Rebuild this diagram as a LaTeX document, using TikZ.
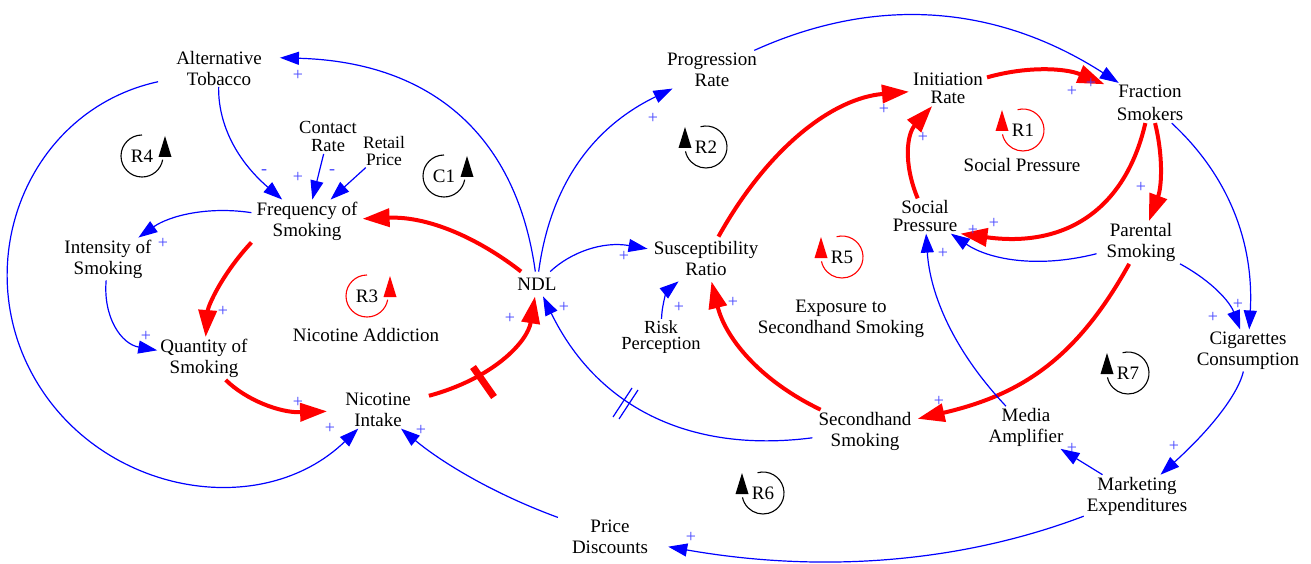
\documentclass[tikz,border=0pt]{standalone}
\usepackage{fontspec}
\setmainfont{Liberation Serif}
\usetikzlibrary{arrows.meta}
\definecolor{pblue}{RGB}{70,70,255}
% clockwise loop marker, arrow on the left
\newcommand\LoopCW[4]{%
  \draw[#3, line width=1.1pt] (#1,#2) ++(-105:21) arc[start angle=-105, end angle=168, radius=21];
  \fill[#3] ({#1-21},{#2-20}) -- ({#1-27.5},{#2+1}) -- ({#1-14.5},{#2+1}) -- cycle;
  \node[lbl] (loop#4) at (#1,#2) {#4};}
% counter-clockwise loop marker, arrow on the right
\newcommand\LoopCCW[4]{%
  \draw[#3, line width=1.1pt] (#1,#2) ++(-90:21) arc[start angle=270, end angle=10, radius=21];
  \fill[#3] ({#1+23},{#2-20}) -- ({#1+16.5},{#2+1}) -- ({#1+29.5},{#2+1}) -- cycle;
  \node[lbl] (loop#4) at (#1,#2) {#4};}
\begin{document}
\begin{tikzpicture}[x=1pt,y=-1pt,
  var/.style={font=\fontsize{19}{21}\selectfont, align=center, inner xsep=3pt, inner ysep=2pt},
  sml/.style={font=\fontsize{18.5}{16}\selectfont, align=center, inner sep=2pt},
  lbl/.style={font=\fontsize{19}{21}\selectfont, align=center, inner sep=1pt},
  pol/.style={text=pblue, font=\fontsize{18}{18}\selectfont, inner sep=0pt},
  blu/.style={draw=blue, line width=1.2pt, -{Triangle[length=19pt,width=13pt]}},
  rd/.style={draw=red, line width=4pt, -{Triangle[length=27pt,width=18pt]}},
]
\fill[white] (0,0) rectangle (1311,564);
\path[use as bounding box] (0,0) rectangle (1311,564);

% ---------- variables ----------
\node[var, inner xsep=18pt, inner ysep=1pt] (alt) at (219,68.5) {Alternative\\Tobacco};
\node[sml, font=\fontsize{18.5}{18}\selectfont] (contact) at (328,136.5) {Contact\\Rate};
\node[sml, font=\fontsize{17.5}{16.5}\selectfont] (retail) at (384,151) {Retail\\Price};
\node[var, inner xsep=5pt] (freq) at (307,221) {Frequency of\\Smoking};
\node[var] (int) at (108,259) {Intensity of\\Smoking};
\node[var] (qty) at (204,358.5) {Quantity of\\Smoking};
\node[var, inner xsep=18pt] (nic) at (378,409.5) {Nicotine\\Intake};
\node[var, inner xsep=2pt, inner ysep=6pt] (ndl) at (537,284) {NDL};
\node[var, inner xsep=20pt] (pd) at (610,536.5) {Price\\Discounts};
\node[var] (prog) at (712,69.5) {Progression\\Rate};
\node[var, inner xsep=6pt, inner ysep=5pt] (sus) at (706,259) {Susceptibility\\Ratio};
\node[sml] (rp) at (661,337.5) {Risk\\Perception};
\node[var, font=\fontsize{19}{18}\selectfont, inner xsep=4pt] (ir) at (948,88.5) {Initiation\\Rate};
\node[var, font=\fontsize{19}{23}\selectfont, inner xsep=12pt] (fs) at (1150,103) {Fraction\\Smokers};
\node[var, font=\fontsize{19}{17.5}\selectfont] (sp) at (925,216) {Social\\Pressure};
\node[var, inner xsep=10pt] (ps) at (1141,242.5) {Parental\\Smoking};
\node[var] (cc) at (1248,350.5) {Cigarettes\\Consumption};
\node[var, inner xsep=6pt] (shs) at (865,431) {Secondhand\\Smoking};
\node[var] (ma) at (1026,427.5) {Media\\Amplifier};
\node[var] (me) at (1137,496) {Marketing\\Expenditures};

% ---------- loop names ----------
\node[lbl] (expo) at (841,319) {Exposure to\\Secondhand Smoking};
\node[lbl] (nicadd) at (366,335) {Nicotine Addiction};
\node[lbl] (socp) at (1022,165) {Social Pressure};

% ---------- links ----------
\draw[blu] (ndl) .. controls (517,138) and (434,62) .. (alt.10);
\draw[blu] (alt) .. controls (28,110) and (-32.5,262) .. (35,379) .. controls (102,495) and (262,521.5) .. (nic);
\draw[blu] (alt) .. controls (218,121) and (234,158) .. (freq);
\draw[blu] (contact) -- (freq);
\draw[blu] (retail) -- (freq);
\draw[blu] (freq) .. controls (207,206) and (169,216) .. (int);
\draw[rd] (freq.south west) .. controls (222,274) and (208,306) .. (qty);
\draw[blu] (int) .. controls (103,317) and (121,344) .. (qty);
\draw[rd] (qty) .. controls (246,400) and (280,413) .. (nic);
\draw[rd] (nic) .. controls (492.5,378.6) and (527.5,342.3) .. (ndl);
\draw[rd] (ndl) .. controls (482,241) and (431,216) .. (freq);
\draw[blu] (ndl) .. controls (550,187) and (591,128) .. (prog);
\draw[blu] (ndl) .. controls (571,252) and (603,241) .. (sus);
\draw[blu] (shs) .. controls (687,454) and (596,405) .. (ndl);
\draw[blu] (pd) .. controls (494,494) and (442.5,463) .. (nic);
\draw[blu] (me) .. controls (963,562) and (824,574) .. (pd);
\draw[blu] (prog) .. controls (879,-6) and (999,6) .. (fs);
\draw[rd] (ir) .. controls (1027,66) and (1065,68) .. (fs);
\draw[rd] (sus) .. controls (769,146) and (834,98) .. (ir);
\draw[rd] (sp) .. controls (903,163) and (907,134) .. (ir);
\draw[rd] (fs) .. controls (1125,211) and (1064,248) .. (sp.south east);
\draw[rd] (fs) .. controls (1163,155) and (1162,186) .. (ps);
\draw[blu] (ps) .. controls (1036,269) and (988,259) .. (sp);
\draw[blu] (fs) .. controls (1231,178) and (1254,246) .. (cc);
\draw[blu] (ps) .. controls (1212.5,281.6) and (1230,302) .. (cc);
\draw[rd] (ps) .. controls (1076,360) and (1020,395) .. (shs);
\draw[rd] (shs) .. controls (758,379.6) and (725,336.6) .. (sus);
\draw[blu] (rp) .. controls (662,302) and (668,290) .. (sus);
\draw[blu] (ma) .. controls (954,351) and (930,295) .. (sp);
\draw[blu] (cc) .. controls (1239,391) and (1215.7,424.7) .. (me);
\draw[blu] (me) -- (ma);

% ---------- delay marks ----------
\draw[red, line width=7pt] (473,367) -- (494,397);
\draw[blue, line width=1.2pt] (613,417) -- (632,388);
\draw[blue, line width=1.2pt] (619,419) -- (638,390);

% ---------- polarities ----------
\node[pol] (p1) at (298,75) {+};
\node[pol] (p2) at (264,172) {-};
\node[pol] (p3) at (298,177) {+};
\node[pol] (p4) at (332,172) {-};
\node[pol] (p5) at (163,243) {+};
\node[pol] (p6) at (223,311) {+};
\node[pol] (p7) at (146,336) {+};
\node[pol] (p8) at (298,402) {+};
\node[pol] (p9) at (330,428) {+};
\node[pol] (p10) at (421,430) {+};
\node[pol] (p11) at (510,318) {+};
\node[pol] (p12) at (564,307) {+};
\node[pol] (p13) at (653,118) {+};
\node[pol] (p14) at (624,256) {+};
\node[pol] (p15) at (679,307) {+};
\node[pol] (p16) at (733,302) {+};
\node[pol] (p17) at (884,109) {+};
\node[pol] (p18) at (923,137) {+};
\node[pol] (p19) at (1072,91) {+};
\node[pol] (p20) at (1091,83) {+};
\node[pol] (p21) at (1141,187) {+};
\node[pol] (p22) at (994,223) {+};
\node[pol] (p23) at (973,230) {+};
\node[pol] (p24) at (943,253) {+};
\node[pol] (p25) at (1238,304) {+};
\node[pol] (p26) at (1213,317) {+};
\node[pol] (p27) at (1174,446) {+};
\node[pol] (p28) at (1072,448) {+};
\node[pol] (p29) at (939,401) {+};
\node[pol] (p30) at (691,537) {+};

% ---------- loop markers ----------
\LoopCCW{142}{156}{black}{R4}
\LoopCCW{444}{176}{black}{C1}
\LoopCCW{367}{296}{red}{R3}
\LoopCW{706}{147}{black}{R2}
\LoopCW{1023}{130}{red}{R1}
\LoopCW{842}{257}{red}{R5}
\LoopCW{1128}{373}{black}{R7}
\LoopCW{763}{493}{black}{R6}
\end{tikzpicture}
\end{document}
